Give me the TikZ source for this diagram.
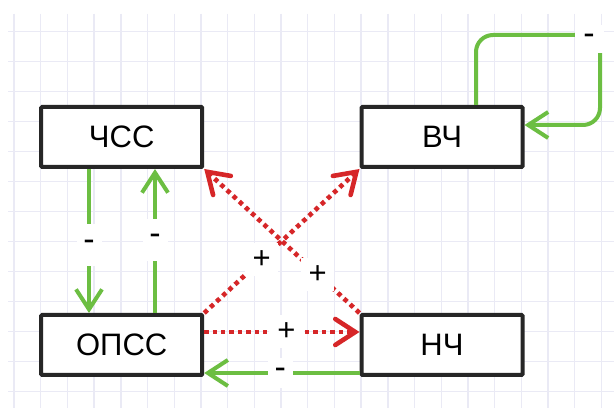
\documentclass[tikz,border=0pt]{standalone}
\usepackage{fontspec}
\setmainfont{Liberation Sans}
\usetikzlibrary{arrows.meta,calc}
\definecolor{gridc}{RGB}{234,234,245}
\definecolor{grn}{RGB}{108,190,66}
\definecolor{rd}{RGB}{214,38,40}
\definecolor{boxc}{RGB}{38,38,38}
\tikzset{
  gridline/.style={draw=gridc, line width=1.4pt},
  box/.style={draw=boxc, line width=4pt, fill=white, minimum width=161pt, minimum height=60pt,
    inner sep=0pt, rounded corners=1pt, font=\fontsize{31}{36}\selectfont},
  garrow/.style={draw=grn, line width=4pt, -{Straight Barb[length=20pt,width=26pt]}},
  rarrow/.style={draw=rd, line width=4.6pt, line cap=butt, dash pattern=on 4.4pt off 4pt,
    -{Straight Barb[length=20pt,width=26pt,line cap=round]}},
  glab/.style={fill=white, inner sep=0pt, minimum width=25pt, minimum height=42pt,
    font=\fontsize{34}{36}\selectfont},
  rlab/.style={fill=white, inner sep=0pt, minimum size=33pt, font=\fontsize{31}{34}\selectfont}
}
\begin{document}
\begin{tikzpicture}[x=1pt,y=-1pt]
  \path[fill=white, use as bounding box] (0,0) rectangle (614,414);
  % grid
  \foreach \i in {0,...,22} \draw[gridline] ({14+26.7*\i},14) -- ({14+26.7*\i},408);
  \foreach \j in {0,...,12} \draw[gridline] (8,{31.7+30*\j}) -- (614,{31.7+30*\j});
  % helper coordinates
  \coordinate (x89) at (89,0);
  \coordinate (x155) at (155,0);
  \coordinate (x476) at (476,0);
  \coordinate (y125) at (0,125);
  \coordinate (y332) at (0,332);
  \coordinate (y373) at (0,373);
  \coordinate (c1) at (476,35);
  \coordinate (c2) at (600,35);
  \coordinate (c3) at (600,125);
  % boxes
  \node[box] (chss) at (121.7,137) {ЧСС};
  \node[box] (vch)  at (442,137)   {ВЧ};
  \node[box] (opss) at (121.7,345) {ОПСС};
  \node[box] (nch)  at (442,345)   {НЧ};
  % green connectors
  \draw[garrow] (x89 |- chss.south) -- node[glab, pos=.53] {-} (x89 |- opss.north);
  \draw[garrow] (x155 |- opss.north) -- node[glab, pos=.51] {-} (x155 |- chss.south);
  \draw[garrow] (nch.west |- y373) -- node[glab, pos=.51, minimum height=30pt] {-} (opss.east |- y373);
  \draw[garrow, rounded corners=17pt] (x476 |- vch.north) -- (c1) -- (c2) -- (c3) -- (vch.east |- y125);
  \node[glab, minimum width=29pt, minimum height=28pt] (looplab) at (589,39) {-};
  % red connectors
  \draw[rarrow] (opss.north east) -- node[rlab, pos=.37] {+} (vch.south west);
  \draw[rarrow] (nch.north west) -- node[rlab, pos=.27] {+} (chss.south east);
  \draw[rarrow] (opss.east |- y332) -- node[rlab, pos=.53, minimum width=35pt] {+} (nch.west |- y332);
\end{tikzpicture}
\end{document}
